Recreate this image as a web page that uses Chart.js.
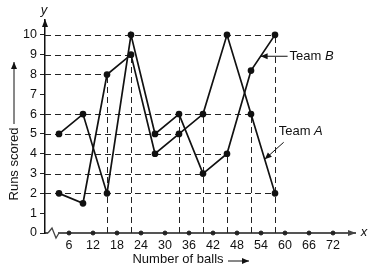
<!DOCTYPE html>
<html>
<head>
<meta charset="utf-8">
<script src="https://cdn.jsdelivr.net/npm/chart.js@4.4.1/dist/chart.umd.min.js"></script>
<style>
  body { margin: 0; background: #fff; }
  canvas { display: block; }
</style>
</head>
<body>
<canvas id="myChart" width="376" height="270"></canvas>
<script>
// number of balls (class marks) and runs for each team
const balls = [3.5, 9.5, 15.5, 21.5, 27.5, 33.5, 39.5, 45.5, 51.5, 57.5];
const teamA = [2, 1.5, 8, 9, 4, 5, 6, 10, 6, 2];
const teamB = [5, 6, 2, 10, 5, 6, 3, 4, 8.2, 10];

const xTicks = [6, 12, 18, 24, 30, 36, 42, 48, 54, 60, 66, 72];
const yTicks = [0, 1, 2, 3, 4, 5, 6, 7, 8, 9, 10];

// dashed guide lines: horizontal ones run from the y axis to a ball value,
// vertical ones run from the x axis up to a runs value
const hGuideY = [10, 9, 8, 6, 5, 4, 3, 2];
const hGuideTo = [57.5, 21.5, 15.5, 51.5, 33.5, 45.5, 39.5, 57.5];
const vGuideX = [15.5, 21.5, 33.5, 39.5, 45.5, 51.5, 57.5];
const vGuideTo = [8, 9, 6, 6, 4, 6, 10];

const FONT = '"Liberation Sans", Arial, sans-serif';
Chart.defaults.font.family = FONT;
Chart.defaults.color = '#111';

const toPoints = (xs, ys) => xs.map((v, i) => ({ x: v, y: ys[i] }));

function arrowHead(ctx, x, y, angle, len, wid) {
  ctx.save();
  ctx.translate(x, y);
  ctx.rotate(angle);
  ctx.beginPath();
  ctx.moveTo(0, 0);
  ctx.lineTo(-len, -wid);
  ctx.lineTo(-len, wid);
  ctx.closePath();
  ctx.fill();
  ctx.restore();
}

function arrow(ctx, x1, y1, x2, y2) {
  ctx.beginPath();
  ctx.moveTo(x1, y1);
  ctx.lineTo(x2, y2);
  ctx.stroke();
  arrowHead(ctx, x2, y2, Math.atan2(y2 - y1, x2 - x1), 7, 3);
}

function teamLabel(ctx, x, y, name) {
  ctx.font = '13px ' + FONT;
  ctx.textAlign = 'left';
  ctx.textBaseline = 'middle';
  ctx.fillText('Team ', x, y);
  const w = ctx.measureText('Team ').width;
  ctx.font = 'italic 13px ' + FONT;
  ctx.fillText(name, x + w, y);
}

const extras = {
  id: 'extras',
  beforeDatasetsDraw(chart) {
    const { ctx, scales: { x, y } } = chart;
    ctx.save();
    ctx.setLineDash([6, 4]);
    ctx.strokeStyle = '#222';
    ctx.lineWidth = 1;
    hGuideY.forEach((v, i) => {
      const py = Math.round(y.getPixelForValue(v)) + 0.5;
      ctx.beginPath();
      ctx.moveTo(x.getPixelForValue(0), py);
      ctx.lineTo(x.getPixelForValue(hGuideTo[i]), py);
      ctx.stroke();
    });
    vGuideX.forEach((v, i) => {
      const px = Math.round(x.getPixelForValue(v)) + 0.5;
      ctx.beginPath();
      ctx.moveTo(px, y.getPixelForValue(0));
      ctx.lineTo(px, y.getPixelForValue(vGuideTo[i]));
      ctx.stroke();
    });
    ctx.restore();
  },
  afterDraw(chart) {
    const { ctx, chartArea: area, scales: { x, y } } = chart;
    const x0 = x.getPixelForValue(0);
    const y0 = y.getPixelForValue(0);
    ctx.save();
    ctx.fillStyle = '#111';
    ctx.strokeStyle = '#111';

    // axis arrow heads and names
    arrowHead(ctx, x0, area.top - 1, -Math.PI / 2, 8, 3);
    ctx.fillStyle = '#444';
    arrowHead(ctx, area.right + 1, y0, 0, 8, 3);
    ctx.fillStyle = '#111';
    ctx.font = 'italic 13px ' + FONT;
    ctx.textAlign = 'center';
    ctx.textBaseline = 'middle';
    ctx.fillText('y', x0 - 1, 10);
    ctx.fillText('x', area.right + 9, y0 - 1);

    // break on the x axis near the origin
    ctx.fillStyle = '#fff';
    ctx.fillRect(x0 + 3, y0 - 2, 10, 4);
    ctx.strokeStyle = '#444';
    ctx.lineWidth = 1.3;
    ctx.beginPath();
    ctx.moveTo(x0 + 3, y0);
    ctx.lineTo(x0 + 7, y0 - 5);
    ctx.lineTo(x0 + 11, y0 + 5);
    ctx.lineTo(x0 + 14, y0);
    ctx.stroke();

    // axis titles
    ctx.fillStyle = '#111';
    ctx.strokeStyle = '#111';
    ctx.lineWidth = 1;
    ctx.font = '13px ' + FONT;
    ctx.textAlign = 'center';
    ctx.fillText('Number of balls', 178, 259);
    arrow(ctx, 228, 261, 249, 261);

    ctx.save();
    ctx.translate(14, 164);
    ctx.rotate(-Math.PI / 2);
    ctx.font = '13px ' + FONT;
    ctx.fillText('Runs scored', 0, 0);
    ctx.restore();
    arrow(ctx, 14, 124, 14, 62);

    // team labels with pointers onto their lines
    const on = (arr, i, t) => ({
      px: x.getPixelForValue(balls[i] + (balls[i + 1] - balls[i]) * t),
      py: y.getPixelForValue(arr[i] + (arr[i + 1] - arr[i]) * t)
    });
    const b = on(teamB, 8, 0.4);
    arrow(ctx, b.px + 27, b.py, b.px, b.py);
    teamLabel(ctx, b.px + 29, b.py, 'B');
    const a = on(teamA, 8, 0.57);
    arrow(ctx, a.px + 19, a.py - 17, a.px, a.py);
    teamLabel(ctx, a.px + 14, a.py - 28, 'A');
    ctx.restore();
  }
};

const data = {
  datasets: [
    {
      label: 'Team A',
      data: toPoints(balls, teamA),
      borderColor: '#111',
      backgroundColor: '#111',
      borderWidth: 1.7,
      pointRadius: 2.5,
      tension: 0
    },
    {
      label: 'Team B',
      data: toPoints(balls, teamB),
      borderColor: '#111',
      backgroundColor: '#111',
      borderWidth: 1.7,
      pointRadius: 2.5,
      tension: 0
    },
    {
      label: 'axis marks',
      data: xTicks.map(v => ({ x: v, y: 0 })),
      showLine: false,
      backgroundColor: '#222',
      borderColor: '#222',
      pointRadius: 2,
      clip: false
    }
  ]
};

const config = {
  type: 'line',
  data: data,
  options: {
    responsive: false,
    animation: false,
    devicePixelRatio: 1,
    layout: { padding: { left: 0, right: 21, top: 20, bottom: 0 } },
    plugins: {
      legend: { display: false },
      tooltip: { enabled: false }
    },
    scales: {
      x: {
        type: 'linear',
        min: 0,
        max: 77.5,
        afterFit: s => { s.height = 37; },
        afterBuildTicks: s => { s.ticks = xTicks.map(v => ({ value: v })); },
        grid: { display: false, drawTicks: false },
        border: { display: true, color: '#555', width: 2 },
        ticks: { padding: 5, font: { size: 12.5 }, maxRotation: 0, autoSkip: false }
      },
      y: {
        type: 'linear',
        min: 0,
        max: 10.75,
        afterFit: s => { s.width = 45; },
        afterBuildTicks: s => { s.ticks = yTicks.map(v => ({ value: v })); },
        grid: { display: true, drawOnChartArea: false, drawTicks: true, tickLength: 5, color: '#222' },
        border: { display: true, color: '#111', width: 1.5 },
        ticks: { padding: 3, font: { size: 12.5 }, autoSkip: false }
      }
    }
  },
  plugins: [extras]
};

const myChart = new Chart(document.getElementById('myChart'), config);
</script>
</body>
</html>
